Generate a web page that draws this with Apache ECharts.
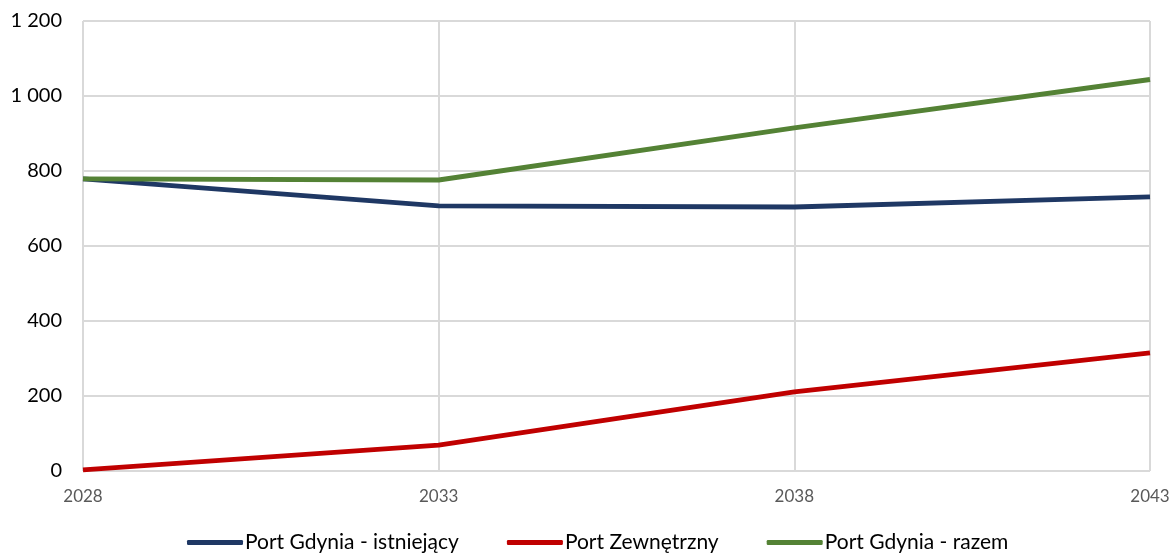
<!DOCTYPE html>
<html>
<head>
<meta charset="utf-8">
<script src="https://cdn.jsdelivr.net/npm/echarts@6/dist/echarts.min.js"></script>
<style>
  html, body { margin: 0; padding: 0; background: #fff; }
  #chart { width: 1173px; height: 554px; }
</style>
</head>
<body>
<div id="chart"></div>
<script>
// dane
var years = ["2028", "2033", "2038", "2043"];
var istniejacy = [779, 707, 704, 731];
var zewnetrzny = [3, 69, 211, 315];
var razem = [779, 776, 915, 1044];
var seriesNames = ["Port Gdynia - istniejący", "Port Zewnętrzny", "Port Gdynia - razem"];
var colors = ["#1F3864", "#C00000", "#548235"];

var myChart = echarts.init(document.getElementById("chart"));

function fmt(v) {
  // separator tysięcy: spacja
  return String(v).replace(/\B(?=(\d{3})+(?!\d))/g, " ");
}

function line(name, data, color) {
  return {
    name: name,
    type: "line",
    data: data,
    symbol: "none",
    lineStyle: { color: color, width: 5 },
    itemStyle: { color: color }
  };
}

myChart.setOption({
  animation: false,
  textStyle: { fontFamily: "Lato" },
  grid: { left: 83, right: 23, top: 21, bottom: 83 },
  legend: {
    top: 532,
    left: 187,
    padding: 0,
    itemWidth: 56,
    itemHeight: 5,
    itemGap: 48,
    icon: "roundRect",
    textStyle: { fontSize: 21, color: "#000", fontFamily: "Lato", padding: [0, 0, 0, -3] },
    data: seriesNames
  },
  xAxis: {
    type: "category",
    boundaryGap: false,
    data: years,
    axisLine: { show: false },
    axisTick: { show: false },
    axisLabel: { color: "#595959", fontSize: 17, margin: 17, fontFamily: "Lato" },
    splitLine: { show: true, lineStyle: { color: "#d9d9d9", width: 2 } }
  },
  yAxis: {
    type: "value",
    min: 0,
    max: 1200,
    interval: 200,
    axisLine: { show: false },
    axisTick: { show: false },
    axisLabel: { color: "#000", fontSize: 20, margin: 21, formatter: fmt, fontFamily: "Lato" },
    splitLine: { lineStyle: { color: "#d9d9d9", width: 2 } }
  },
  series: [
    line(seriesNames[0], istniejacy, colors[0]),
    line(seriesNames[1], zewnetrzny, colors[1]),
    line(seriesNames[2], razem, colors[2])
  ]
});
</script>
</body>
</html>
